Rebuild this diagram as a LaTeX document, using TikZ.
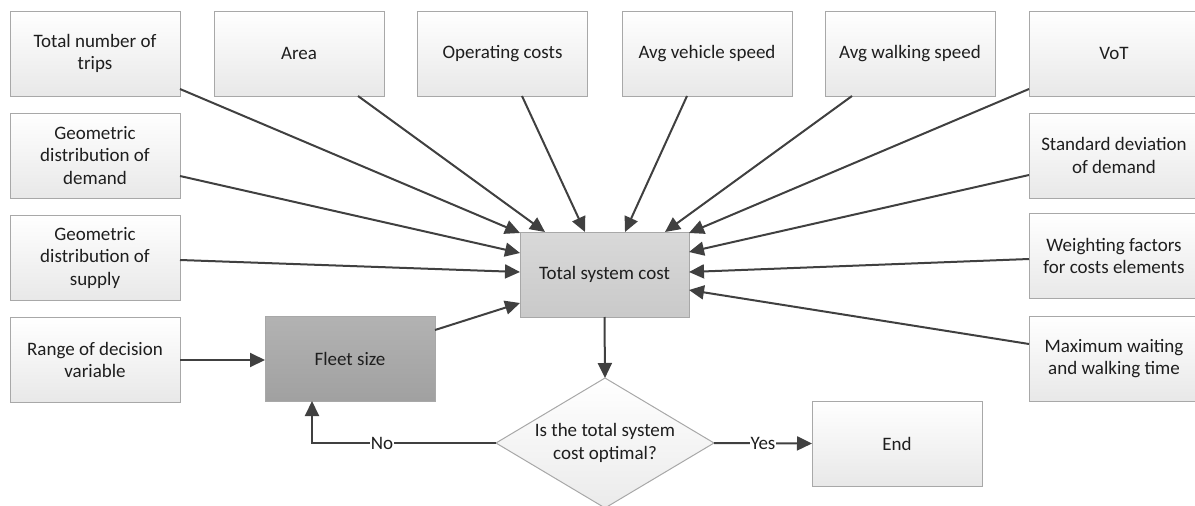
\documentclass[tikz,border=0pt]{standalone}
\usepackage{fontspec}
\setmainfont{Carlito}
\usetikzlibrary{arrows.meta,shapes.geometric,calc}
\definecolor{linec}{HTML}{404040}
\definecolor{edgec}{HTML}{A8A8A8}
\definecolor{txtc}{HTML}{1E1E1E}
\tikzset{
  box/.style={rectangle, draw=edgec, line width=1pt, shading=axis,
    top color=white, bottom color=black!9, minimum width=170pt,
    minimum height=85pt, inner sep=0pt, outer sep=0pt, align=center,
    text=txtc, font=\fontsize{19}{22.5}\selectfont},
  costbox/.style={box, top color=black!15, bottom color=black!21},
  fleetbox/.style={box, top color=black!30, bottom color=black!37},
  decision/.style={diamond, draw=edgec, line width=1pt, shading=axis,
    top color=white, bottom color=black!8, aspect=1.677,
    minimum width=218pt, minimum height=130pt, inner sep=0pt,
    outer sep=0pt, align=center, text=txtc,
    font=\fontsize{19}{22.5}\selectfont},
  arr/.style={draw=linec, line width=2pt,
    -{Triangle[length=15pt,width=14pt]}},
  lbl/.style={fill=white, inner sep=1pt, text=txtc,
    font=\fontsize{19}{22.5}\selectfont}
}
\begin{document}
\begin{tikzpicture}[x=1pt,y=-1pt]
\useasboundingbox (0,0) rectangle (1195,506);

% input parameters, top row
\node[box] (trips)  at (95,53.5)   {Total number of\\trips};
\node[box] (area)   at (299,53.5)  {Area};
\node[box] (opcost) at (502.5,53.5){Operating costs};
\node[box] (vspeed) at (707,53.5)  {Avg vehicle speed};
\node[box] (wspeed) at (910,53.5)  {Avg walking speed};
\node[box] (vot)    at (1114,53.5) {VoT};

% input parameters, left column
\node[box] (demand) at (95,155.5) {Geometric\\distribution of\\demand};
\node[box] (supply) at (95,257.5) {Geometric\\distribution of\\supply};
\node[box] (range)  at (95,360)   {Range of decision\\variable};

% input parameters, right column
\node[box] (stddev)  at (1114,155.5) {Standard deviation\\of demand};
\node[box] (weight)  at (1114,256)   {Weighting factors\\for costs elements};
\node[box] (maxwait) at (1114,358.5) {Maximum waiting\\and walking time};

% core of the model
\node[fleetbox] (fleet) at (350,358.5) {Fleet size};
\node[costbox, minimum width=169pt] (tsc) at (604.5,274.5) {Total system cost};
\node[decision] (dia) at (605,443) {Is the total system\\cost optimal?};
\node[box] (end) at (897,443.5) {End};

% parameters feeding the cost function
\draw[arr] ($(trips.south east)+(0,-7)$) -- ($(tsc.north west)+(0,1)$);
\draw[arr] ($(area.south)+(59,0)$)       -- ($(tsc.north west)+(25,0)$);
\draw[arr] ($(opcost.south)+(19.5,0)$)   -- ($(tsc.north)+(-19.5,0)$);
\draw[arr] ($(vspeed.south)+(-20,0)$)    -- ($(tsc.north)+(20.5,0)$);
\draw[arr] ($(wspeed.south)+(-58,0)$)    -- ($(tsc.north)+(60.5,0)$);
\draw[arr] ($(vot.south west)+(0,-7)$)   -- ($(tsc.north east)+(0,1)$);
\draw[arr] ($(stddev.west)+(0,19.5)$)    -- ($(tsc.east)+(0,-22.5)$);
\draw[arr] ($(weight.west)+(0,3)$)       -- ($(tsc.east)+(0,-2.5)$);
\draw[arr] ($(maxwait.west)+(0,-14.5)$)  -- ($(tsc.east)+(0,15.5)$);
\draw[arr] ($(demand.east)+(0,20.5)$)    -- ($(tsc.west)+(0,-21.5)$);
\draw[arr] ($(supply.east)+(0,2.5)$)     -- ($(tsc.west)+(0,-2.5)$);
\draw[arr] ($(fleet.east)+(0,-28.5)$)    -- ($(tsc.west)+(0,28.5)$);

% decision loop
\draw[arr] (range.east) -- (range.east -| fleet.west);
\draw[arr] (tsc.south) -- (dia.north);
\coordinate (back) at ($(fleet.south)+(-38,0)$);
\draw[arr] (dia.west) -- node[lbl, pos=0.62] {No} (back |- dia.west) -- (back);
\draw[arr] (dia.east) -- node[lbl] {Yes} (end.west);
\end{tikzpicture}
\end{document}
